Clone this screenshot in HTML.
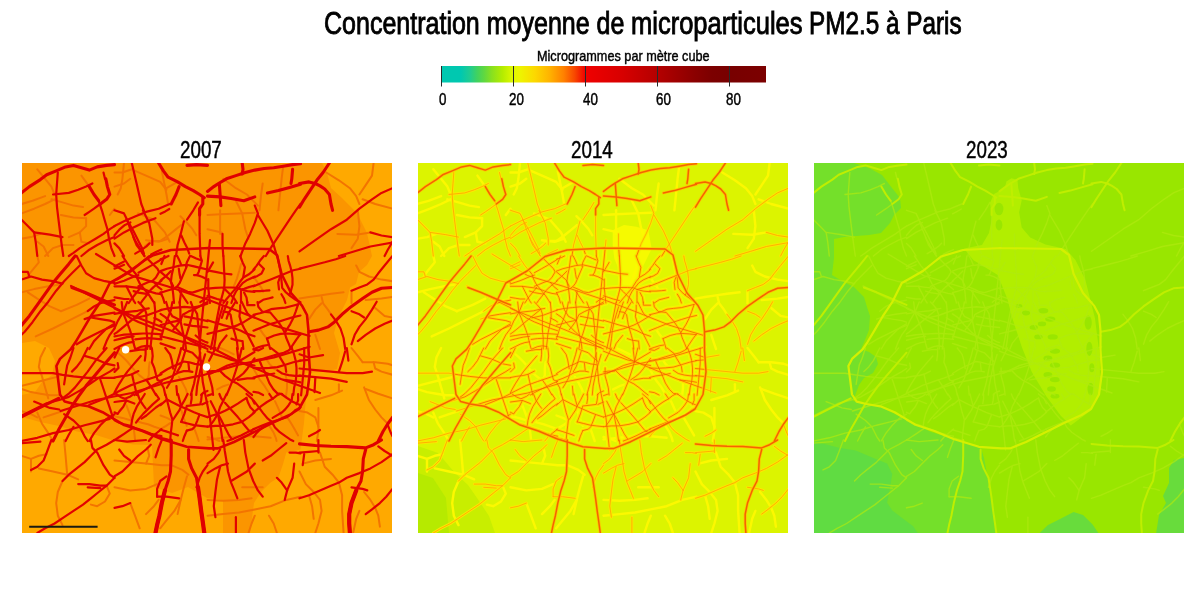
<!DOCTYPE html>
<html><head><meta charset="utf-8">
<style>
html,body{margin:0;padding:0;background:#fff;width:1200px;height:590px;overflow:hidden;position:relative}
.t{position:absolute;font-family:"Liberation Sans",sans-serif;color:#000;white-space:nowrap;transform-origin:0 0;line-height:1;-webkit-text-stroke:0.45px #000}
.ti{top:8.6px;font-size:30.9px;transform:scaleX(0.81);-webkit-text-stroke:0.9px #000}
#ti2{transform:scaleX(0.826)}
#ti3{transform:scaleX(0.787)}
#sub{left:536.8px;top:48px;font-size:15px;transform:scaleX(0.845)}
.tk{font-size:16.5px;top:91px;transform:scaleX(0.81)}
.yr{font-size:23.2px;top:138.6px;transform:scaleX(0.81)}
#cbar{position:absolute;left:441px;top:66px;width:325px;height:16.5px}
.panel{position:absolute;top:163px;width:370.5px;height:370px;overflow:hidden}
</style></head><body>
<div class="t ti" style="left:324px">Concentration moyenne de</div><div class="t ti" id="ti2" style="left:630.8px">microparticules</div><div class="t ti" id="ti3" style="left:809.3px">PM2.5 à Paris</div>
<div class="t" id="sub">Microgrammes par mètre cube</div>
<svg id="cbar" viewBox="0 0 325 16.5" preserveAspectRatio="none">
<defs><linearGradient id="cg" x1="0" x2="1" y1="0" y2="0">
<stop offset="0" stop-color="#00c8b0"/>
<stop offset="0.061" stop-color="#00c8b0"/>
<stop offset="0.089" stop-color="#20cc90"/>
<stop offset="0.111" stop-color="#40d260"/>
<stop offset="0.133" stop-color="#60d840"/>
<stop offset="0.156" stop-color="#88e020"/>
<stop offset="0.189" stop-color="#b4ec00"/>
<stop offset="0.222" stop-color="#e0f800"/>
<stop offset="0.244" stop-color="#eef400"/>
<stop offset="0.289" stop-color="#fcd800"/>
<stop offset="0.333" stop-color="#ffb400"/>
<stop offset="0.378" stop-color="#ff8000"/>
<stop offset="0.411" stop-color="#f84800"/>
<stop offset="0.444" stop-color="#f00000"/>
<stop offset="0.556" stop-color="#d80000"/>
<stop offset="0.667" stop-color="#b40000"/>
<stop offset="0.778" stop-color="#8c0000"/>
<stop offset="0.833" stop-color="#7c0000"/>
<stop offset="0.889" stop-color="#780000"/>
<stop offset="1" stop-color="#7c0000"/>
</linearGradient></defs>
<rect x="0" y="0" width="325" height="16.5" fill="url(#cg)"/>
</svg>
<svg style="position:absolute;left:0;top:0" width="1200" height="590">
<g stroke="#2a2a2a" stroke-width="1">
<line x1="441.5" y1="66" x2="441.5" y2="86.5"/>
<line x1="513.5" y1="66" x2="513.5" y2="86.5"/>
<line x1="585.5" y1="66" x2="585.5" y2="86.5"/>
<line x1="657.5" y1="66" x2="657.5" y2="86.5"/>
<line x1="729.5" y1="66" x2="729.5" y2="86.5"/>
</g>
</svg>
<div class="t tk" style="left:439.3px">0</div>
<div class="t tk" style="left:509px">20</div>
<div class="t tk" style="left:582.8px">40</div>
<div class="t tk" style="left:655.8px">60</div>
<div class="t tk" style="left:725.7px">80</div>
<div class="t yr" style="left:180.4px">2007</div>
<div class="t yr" style="left:570.7px">2014</div>
<div class="t yr" style="left:965.9px">2023</div>

<svg width="0" height="0" style="position:absolute"><defs><g id="nM"><polyline points="-0.5,29.9 7.4,23.6 18.4,16.6 24.7,11.8 34.2,7.9 43.6,3.9 51.5,2.4 59.4,4.7 67.3,7.1 75.2,3.9 84.6,2.4 92.5,1.6"/><polyline points="67.3,23.6 72,31.5 76.7,37.8"/><polyline points="83.8,15.8 85.4,23.6 87.8,31.5 84.6,36.3 78.3,41"/><polyline points="136.6,0 141.4,7.9 146.1,14.2 155.6,18.9 163.4,23.6 171.3,27.6 177.6,31.5 182.3,34.7"/><polyline points="157.1,23.6 154,31.5 150.8,37.8 149.2,41"/><polyline points="180.8,34.7 180.8,41 177.6,45.7 177.6,52"/><polyline points="165,2.4 174.5,1.6 185.5,2.4"/><polyline points="185.5,28.4 191.8,23.6 196.5,20.5 204.4,15.8 213.9,12.6 223.3,9.5 232.8,7.1 242.2,5.5 251.7,4.7 261.2,3.2 270.6,1.6 278.5,0.8"/><polyline points="220.2,0 221,6.3 220.2,11"/><polyline points="197.3,20.5 198.1,31.5 198.9,42.6"/><polyline points="185.5,33.1 198.1,33.9 209.1,35.5 221.8,37.8 232.8,33.9"/><polyline points="245.4,29.9 256.4,27.6 267.5,24.4 278.5,21.3"/><polyline points="270.6,6.3 269.8,15.8 269,20.5"/><polyline points="307.4,0 301.1,9.5 294.8,17.3 288.5,26.8 282.2,36.3 277.5,44.1"/><polyline points="277.5,20.5 287,18.9 293.3,20.5 298,22.9 302.7,26 307.4,31.5 309,41 310.6,47.3"/><polyline points="53.1,93 46.8,100.9 38.9,110.3 31,119.8 23.1,130.8 15.3,141.9 7.4,152.9 -0.5,162.4"/><polyline points="49.9,124.5 62.6,129.3 73.6,134 84.6,138.7 92.5,141.9"/><polyline points="287,168.7 296.4,167.1 305.9,163.9 312.2,159.2 320.1,151.3 329.5,143.4 340.6,135.6 350,129.3 359.5,125.3 370.5,124.5"/><polyline points="92.5,189.7 81.5,202.3 72,213.4 64.1,222.8 56.2,233.9 49.9,243.3 43.6,254.4 37.3,265.4 31,278"/><polyline points="370.5,254.4 365.8,260.7 361,268.5 356.3,278"/><polyline points="149.2,277 149.2,292.8 148.5,308.5 146.1,318 142.9,327.4 139.8,340.1 137.4,352.7 135.1,362.1 133.5,370"/><polyline points="166.6,286.5 166.6,295.9 169.7,305.4 174.5,314.8 176,324.3 177.6,335.3 179.2,347.9 180.8,359 182.3,370"/><polyline points="277.5,280.9 293.3,282.5 309,283.3 324.8,283.6 343.7,284.9 351.6,281.7 359.5,277"/><polyline points="343.7,286.5 341.3,295.9 340.6,308.5 339,318 334.2,327.4 329.5,340.1 327.2,351.1 327.2,360.5 327.9,370"/><polyline points="0,253.6 15.7,245.7 36.6,235.3"/></g><g id="nR"><polyline points="35.8,9.5 35,20.5 34.2,31.5 35,44.1 36.5,56.7 38.1,69.4 39.7,82 41.3,93"/><polyline points="31,31.5 46.8,29.9 56.2,26.8 64.1,23.6 70.4,20.5"/><polyline points="76.7,37.8 79.9,47.3 83,58.3 85.4,66.2 87,75.7 89.3,85.1 92.5,93"/><polyline points="-0.5,56.7 5.8,63.1 12.1,69.4 13.7,78.8 15.3,93"/><polyline points="12.1,69.4 27.9,71.7 40.5,74.1"/><polyline points="92.5,63.1 87.8,66.2 81.5,70.9 73.6,75.7 65.7,80.4 57.8,85.1 51.5,89.8 46.8,93"/><polyline points="92.5,74.1 84.6,77.2 75.2,82 67.3,86.7 59.4,93"/><polyline points="62.6,52 67.3,48.9 72,45.7 78.3,41"/><polyline points="81.5,9.5 83,15.8"/><polyline points="109.8,0 114.6,20.5 119.3,41 122.4,48.9"/><polyline points="120.9,47.3 127.2,59.9 130.3,75.7 130.3,82"/><polyline points="92.5,47.3 102,50.4 105.1,56.7 108.3,66.2 113,77.2 117.7,85.1 122.4,93"/><polyline points="92.5,63.1 102,58.3 113,53.6 124,48.9 136.6,45.7 147.7,41"/><polyline points="92.5,75.7 102,69.4 111.4,64.6 120.9,59.9 133.5,55.2"/><polyline points="92.5,80.4 97.2,85.1 102,93"/><polyline points="111.4,74.1 114.6,82 119.3,88.3 122.4,93"/><polyline points="165,56.7 171.3,47.3 176,39.4"/><polyline points="161.9,58.3 158.7,70.9 155.6,82 154,93"/><polyline points="177.6,52 177.6,70.9 178.4,93"/><polyline points="232.8,42.6 235.9,50.4 232.8,59.9 228.1,70.9 223.3,80.4 218.6,93"/><polyline points="278.5,41 273.8,47.3 267.5,56.7 261.2,66.2 254.9,75.7 248.6,85.1 243.8,93"/><polyline points="235.9,52 245.4,67.8 251.7,82 254.9,93"/><polyline points="200.5,70.9 200.5,82 201.3,93"/><polyline points="277.5,88.3 293.3,77.2 309,66.2 324.8,56.7 337.4,45.7 350,36.3 359.5,29.9 370.5,25.2"/><polyline points="348.4,69.4 359.5,72.5 370.5,74.1"/><polyline points="370.5,78.8 365.8,86.7 362.6,93"/><polyline points="316.9,93 332.7,88.3 348.4,83.5 370.5,79.6"/><polyline points="57.8,102.5 49.9,110.3 42.1,118.2 34.2,127.7 26.3,138.7 18.4,148.2 10.5,159.2 2.7,168.7 -0.5,171.8"/><polyline points="-0.5,116.6 9,113.5 20,116.6 31,118.2 40.5,120.6"/><polyline points="-0.5,108.8 5.8,108.8 7.4,113.5"/><polyline points="54.7,93 59.4,102.5 64.1,110.3 72,115.1 83,118.2 92.5,119.8"/><polyline points="92.5,137.1 84.6,138.7 78.3,140.3 72,143.4 65.7,148.2"/><polyline points="92.5,149.7 81.5,151.3 72,152.9 62.6,156.1"/><polyline points="68.9,154.5 78.3,156.1 87.8,157.6 92.5,159.2"/><polyline points="92.5,162.4 81.5,167.1 72,171.8 62.6,176.5 54.7,181.3"/><polyline points="67.3,186 72,178.1 78.3,171.8 84.6,165.5 92.5,160.8"/><polyline points="81.5,186 84.6,178.1 87.8,171.8 92.5,165.5"/><polyline points="277.5,105.6 290.1,102.5 302.7,99.3 313.8,96.2 323.2,93"/><polyline points="370.5,93 362.6,102.5 356.3,110.3 351.6,116.6 345.3,121.4 337.4,124.5 329.5,127.7"/><polyline points="354.7,138.7 350,146.6 343.7,156.1 337.4,163.9 332.7,171.8 329.5,181.3"/><polyline points="370.5,157.6 362.6,160.8 353.2,165.5 343.7,171.8 335.8,178.1"/><polyline points="309,151.3 313.8,157.6 318.5,165.5 321.6,175 323.2,186"/><polyline points="329.5,148.2 337.4,151.3 342.1,154.5"/><polyline points="84.6,185 73.6,197.6 65.7,208.6 59.4,216.5 53.1,224.4 46.8,230.7 40.5,235.4"/><polyline points="-0.5,252.8 12.1,246.5 24.7,240.2 37.3,237 46.8,233.9 57.8,227.6 67.3,221.3 76.7,214.9 87.8,208.6 92.5,205.5"/><polyline points="51.5,185 48.4,194.5 45.2,202.3 43.6,211.8 42.1,221.3"/><polyline points="-0.5,210.2 9,210.2 20,210.2 31,210.2 40.5,211.8 51.5,213.4 65.7,214.9 78.3,214.9 92.5,214.9"/><polyline points="62.6,192.9 73.6,196 84.6,200.8 92.5,202.3"/><polyline points="65.7,185 62.6,191.3 59.4,197.6 54.7,203.9 49.9,208.6"/><polyline points="92.5,230.7 83,235.4 75.2,238.6 67.3,241.7"/><polyline points="12.1,238.6 20,241.7 27.9,244.9 37.3,246.5"/><polyline points="-0.5,278 15.3,274.8 31,270.1 46.8,267 62.6,262.2 75.2,259.1 87.8,255.9"/><polyline points="42.1,251.2 51.5,257.5 57.8,263.8 62.6,273.3 65.7,278"/><polyline points="67.3,278 72,270.1 78.3,262.2 84.6,255.9 92.5,251.2"/><polyline points="78.3,216.5 81.5,226 84.6,235.4 87.8,244.9 90.9,254.4"/><polyline points="51.5,263.8 46.8,271.7 43.6,278"/><polyline points="277.5,191.3 287,194.5 301.1,192.1"/><polyline points="277.5,197.6 287,196.8"/><polyline points="277.5,212.6 293.3,214.2 309,215.7 324.8,218.9"/><polyline points="293.3,214.9 292.5,229.1"/><polyline points="282.2,185 282.2,200.8 280.7,216.5 279.1,232.3"/><polyline points="323.2,188.2 320.1,199.2 316.9,208.6"/><polyline points="324.8,185 326.4,197.6"/><polyline points="277.5,205.5 293.3,207.1 309,208.6 324.8,210.2 340.6,210.2 350,208.6"/><polyline points="365.8,262.2 368.9,270.1 370.5,273.3"/><polyline points="287,273.3 293.3,270.1 298,267"/><polyline points="-0.5,280.2 9,279.4 18.4,278.6"/><polyline points="29.4,277 24.7,289.6 21.6,297.5 15.3,303.8 9,306.9"/><polyline points="68.9,277 70.4,284.9 75.2,289.6 81.5,302.2 87.8,311.7 92.5,314.8"/><polyline points="92.5,277 84.6,281.7 75.2,286.5 68.9,292.8 62.6,299.1 54.7,305.4 46.8,311.7 40.5,318"/><polyline points="92.5,314.8 84.6,322.7 76.7,329 68.9,335.3 61,341.6 51.5,347.9 42.1,354.2 32.6,360.5 23.1,365.3 15.3,370"/><polyline points="56.2,321.1 67.3,321.1 78.3,322.7 84.6,322.7"/><polyline points="65.7,324.3 78.3,325.1"/><polyline points="185.5,302.2 180.8,308.5 177.6,314.8 174.5,324.3"/><polyline points="92.5,277 105.1,278.6 124,277"/><polyline points="139.8,277 136.6,284.9 133.5,294.3"/><polyline points="92.5,313.3 100.4,308.5 108.3,300.6 116.1,292.8 124,286.5 128.8,281.7"/><polyline points="97.2,286.5 102,292.8 108.3,297.5"/><polyline points="135.1,333.7 144.5,333.7 157.1,335.3"/><polyline points="144.5,313.3 138.2,318 135.1,325.9 135.1,333.7"/><polyline points="92.5,344.8 100.4,343.2 108.3,340.1"/><polyline points="201.3,277 202.8,288 204.4,297.5 206,308.5 209.1,319.6 212.3,327.4 215.4,335.3"/><polyline points="185.5,310.1 193.4,305.4 199.7,302.2 206,300.6"/><polyline points="198.1,303.8 195,316.4 193.4,329 191.8,343.2 193.4,354.2"/><polyline points="185.5,300.6 191.8,295.9 196.5,289.6 198.1,286.5"/><polyline points="209.1,318 217,313.3 224.9,308.5 232.8,300.6"/><polyline points="221.8,277 223.3,289.6 226.5,305.4 231.2,318 235.9,327.4 240.7,333.7"/><polyline points="240.7,297.5 248.6,292.8 256.4,286.5 264.3,280.2"/><polyline points="267.5,289.6 273.8,289.6 278.5,290.4"/><polyline points="265.1,327.4 270.6,314.8 272.2,300.6"/><polyline points="265.1,327.4 259.6,319.6 254.9,314.8"/><polyline points="265.1,327.4 262.7,336.9"/><polyline points="213.9,354.2 213.9,370"/><polyline points="277.5,289.6 287,288.8 296.4,288"/><polyline points="282.2,291.2 280.7,302.2"/><polyline points="296.4,277 296.4,289.6"/><polyline points="370.5,291.2 359.5,299.1 348.4,305.4 337.4,310.1 324.8,314.8 316.9,319.6 309,322.7 298,327.4 287,332.2 277.5,335.3"/><polyline points="356.3,283.3 362.6,288 370.5,292.8"/><polyline points="370.5,325.9 364.2,333.7 357.9,340.1 350,346.4 343.7,351.1"/><polyline points="329.5,324.3 340.6,325.9 345.3,327.4"/><polyline points="100.5,93 103.7,97.8 106.8,102.6 110.8,107.3 114,111.3 115.6,116.1 118,120.9 121.2,124.9 124.4,128.8 127.6,132.8 130.7,137.6 132.3,140"/><polyline points="92.5,103.4 97.3,101 102.1,98.6"/><polyline points="92.5,105.7 98.1,103.4 102.1,101.8"/><polyline points="95.7,116.1 100.5,112.9 105.2,109.7 110.8,105.7 116.4,101.8 122,97.8 126,95.4 129.9,93"/><polyline points="92.5,120.9 97.3,119.3 102.1,117.7 106,116.1 111.6,113.7 116.4,112.1"/><polyline points="116.4,109.7 123.6,105.7 129.1,102.6 137.1,97.8 139.5,96.2"/><polyline points="126,96.2 130.7,101 135.5,105.7 137.1,108.9 133.9,114.5 130.7,117.7 126,119.3 120.4,121.7 116.4,123.3"/><polyline points="92.5,123.3 98.9,123.3 104.4,123.3 110,124.1 116.4,124.9 122.8,126.5 128.3,128.8 133.9,130.4 139.5,131.2"/><polyline points="139.5,117.7 135.5,120.9 131.5,124.1 128.3,127.3 126,130.4 123.6,133.6 120.4,137.6 118.8,140"/><polyline points="104.4,123.3 106.8,128.1 109.2,132.8 111.6,137.6 113.2,140"/><polyline points="92.5,134.4 97.3,135.2 102.1,136 106.8,136"/><polyline points="106.8,140 110,135.2 113.2,131.2 116.4,127.3 118.8,124.1"/><polyline points="111.6,128.1 116.4,129.6 121.2,130.4 126,131.2"/><polyline points="132.3,119.3 135.5,123.3 139.5,126.5"/><polyline points="138.5,108.1 144.9,105.7 151.2,104.2 157.6,102.6 164.8,101.8 172,103.4 178.3,104.9 185.5,106.5"/><polyline points="138.5,96.2 143.3,94.6 146.5,93"/><polyline points="142.5,93 139.3,101"/><polyline points="152.8,93 152,99.4 151.2,105.7 149.7,112.1 148.9,118.5 150.4,124.9 151.2,131.2 152,140"/><polyline points="155.2,93 157.6,97.8 159.2,101.8"/><polyline points="138.5,108.9 143.3,112.9 148.1,116.9 151.2,123.3"/><polyline points="138.5,117.7 143.3,113.7 148.9,108.1"/><polyline points="164.8,103.4 162.4,108.9 160,114.5 157.6,120.1 155.2,123.3 152,125.7 146.5,127.3 141.7,128.8 138.5,129.6"/><polyline points="168,93 166.4,96.2 164.8,99.4 164,103.4"/><polyline points="178.3,93 179.9,97.8 178.3,103.4 176.7,108.9 175.1,112.1 172,112.1"/><polyline points="175.1,112.1 179.9,113.7 183.1,115.3 185.5,116.9"/><polyline points="155.2,124.1 160.8,126.5 165.6,128.8 170.4,129.6 175.1,128.1 179.9,126.5 185.5,124.9"/><polyline points="157.6,128.1 160.8,132.8 164,137.6 165.6,140"/><polyline points="159.2,128.1 158.4,134.4 157.6,140"/><polyline points="185.5,134.4 181.5,136.8 178.3,139.2"/><polyline points="138.5,129.6 140.9,134.4 142.5,140"/><polyline points="156.8,105.7 157.6,111.3 158.4,115.3"/><polyline points="168.8,93 174.3,95.4 178.3,97"/><polyline points="100.9,149.4 92.5,145.4"/><polyline points="100.9,149.4 92.5,150.9"/><polyline points="100.9,149.4 95.7,158.1 92.5,165.3"/><polyline points="100.9,149.4 99.7,139"/><polyline points="100.9,149.4 105.2,139"/><polyline points="100.9,149.4 115.6,147.8 122,146.2 126.8,145.4"/><polyline points="100.9,149.4 108.4,154.9 116.4,158.9 124.4,162.1 132.3,165.3 139.5,167.7"/><polyline points="100.9,149.4 104.4,158.1 107.6,166.1 110,173.3 111.6,180.4 113.2,186"/><polyline points="116.4,139 119.6,142.2 122.8,146.2 124.4,150.9 124.4,158.9 124.4,166.9 125.2,174.8 125.2,186"/><polyline points="132.3,139 133.1,147 133.1,154.9 131.5,162.9 129.9,170.9 129.1,178.8 128.3,186"/><polyline points="139.5,147 124.4,152.5 114,154.9"/><polyline points="122.8,146.2 118,150.2 113.2,154.1 108.4,158.1 103.7,162.1 98.9,166.1 94.9,169.3 92.5,170.9"/><polyline points="92.5,173.3 97.3,172.5 102.1,171.7 108.4,171.3 114.8,170.9 121.2,170.5 127.6,170.5 133.9,170.9 139.5,171.3"/><polyline points="92.5,177.2 98.9,175.6 105.2,174.1 111.6,173.3"/><polyline points="113.2,176.4 119.6,175.6 126,175.2 132.3,175.6 139.5,176.4"/><polyline points="92.5,186 97.3,183.6 102.1,181.2 106.8,179.6 111.6,178.8"/><polyline points="114,186 119.6,183.6 124.4,182.8 129.1,183.6"/><polyline points="132.3,154.9 137.1,157.3 139.5,158.9"/><polyline points="138.5,147 146.5,145.4 154.4,144.6 162.4,143.8 170.4,144.6 178.3,143 185.5,140.6"/><polyline points="144.1,139 146.5,147 150.4,153.3 158.4,157.3"/><polyline points="150.4,139 148.9,147 146.5,153.3 144.1,159.7 141.7,165.3 140.1,170.9 138.5,175.6"/><polyline points="157.6,139 158.4,147 158.4,157.3 160,165.3 161.6,172.5 163.2,178.8 164,186"/><polyline points="168.8,139 171.2,145.4 172.8,147 175.1,150.9 175.9,158.9 176.7,166.9 177.5,174.8 178.3,186"/><polyline points="185.5,139 178.3,143 172,146.2 166.4,148.6 160.8,151.7 158.4,157.3"/><polyline points="158.4,157.3 150.4,158.9 144.9,160.5 138.5,162.1"/><polyline points="158.4,157.3 154.4,162.9 151.2,166.9"/><polyline points="138.5,150.9 143.3,154.1 146.5,157.3 150.4,162.1 153.6,165.3 157.6,169.3 162.4,173.3 168,177.2 174.3,180.4 179.9,183.6 185.5,186"/><polyline points="138.5,173.3 144.9,174.8 151.2,176.4 157.6,178 164,179.6 170.4,181.2 176.7,182.8 183.1,184.4"/><polyline points="138.5,180.4 143.3,182 148.1,183.6 152.8,185.2"/><polyline points="171.2,146.2 169.6,154.9 167.2,162.9 164.8,170.9 162.4,177.2 160.8,186"/><polyline points="162.4,153.3 170.4,154.9 178.3,156.5 185.5,158.1"/><polyline points="162.4,161.3 170.4,162.9 178.3,163.7 185.5,164.5"/><polyline points="173.6,172.5 178.3,176.4 183.1,178.8 185.5,179.6"/><polyline points="201.4,93 201.8,101 202.2,108.9 202.6,116.9 202.2,124.9 200.6,131.2 198.2,140"/><polyline points="191.1,99.4 187.9,104.9 185.5,108.9"/><polyline points="185.5,107.3 193.5,108.9 201.4,110.5 209.4,111.3"/><polyline points="218.2,93 220.6,99.4 222.9,104.2 221.3,113.7"/><polyline points="232.5,106.5 226.9,111.3 221.3,114.5 218.2,118.5 214.2,124.9 209.4,130.4 204.6,136 201.4,140"/><polyline points="185.5,125.7 193.5,124.9 201.4,124.5 209.4,124.5 215.8,124.9 219,126.5 225.3,128.1 232.5,128.8"/><polyline points="232.5,113.7 225.3,116.9 220.6,120.1 217.4,124.1 214.2,128.1 211.8,132.8 209.4,140"/><polyline points="232.5,122.5 226.9,124.1 222.1,125.7 219,126.5"/><polyline points="201.4,124.9 205.4,128.8 209.4,132.8 212.6,136 215,140"/><polyline points="186.3,116.1 186.3,124.9 187.1,132.8 187.9,140"/><polyline points="185.5,132.8 190.3,134.4 195.1,136 201.4,137.6"/><polyline points="219,128.1 219,134.4 219,140"/><polyline points="222.1,129.6 224.5,134.4 225.3,140"/><polyline points="255.4,93 257,101 258.6,108.9 259.4,116.9 260.2,124.9 263.4,128.8 268.1,132.8 273.7,136.8 278.5,139.2"/><polyline points="241.9,93 237.9,97.8 234.7,102.6 231.5,106.5"/><polyline points="237.1,101 241.9,105.7 239.5,110.5 235.5,112.9 231.5,114.5"/><polyline points="231.5,123.3 239.5,120.1 247.4,116.9 255.4,113.7 263.4,110.5 271.3,107.3 278.5,105.7"/><polyline points="257.8,114.5 256.2,119.3 257,126.5"/><polyline points="231.5,128.1 237.9,128.1 243.4,127.7 247.4,127.3"/><polyline points="236.3,140 241.1,136.8 247.4,135.2 250.6,134.4"/><polyline points="259.4,131.2 261.8,135.2 263.4,140"/><polyline points="265.8,93 266.6,97.8 268.1,102.6 269.7,108.9 270.5,115.3 270.5,121.7 268.9,128.1 267.3,132"/><polyline points="198.2,139 196.7,147 195.1,154.9 193.5,162.9 191.9,170.9 190.3,178.8 188.7,186"/><polyline points="200.6,143.8 198.2,151.7 195.9,159.7 194.3,167.7 193.5,175.6 191.9,186"/><polyline points="205.4,139 203,145.4 201.4,150.2 199.8,154.9"/><polyline points="213.4,139 209.4,145.4 206.2,150.9 204.6,155.7"/><polyline points="185.5,157.3 193.5,159.7 201.4,162.1 207.8,163.7 212.6,165.3 219,167.7 225.3,170.9 232.5,173.3"/><polyline points="185.5,170.9 191.9,169.3 198.2,167.7 204.6,166.1 209.4,164.5 215.8,162.1 222.1,158.9 228.5,154.9 232.5,152.5"/><polyline points="201.4,148.6 206.2,149.4 208.6,151.7 209.4,156.5 210.2,161.3 211.8,166.9 213.4,172.5 215,178.8 215.8,186"/><polyline points="218.2,142.2 218.2,147 217.4,153.3 219,158.9 222.1,165.3 225.3,170.9 228.5,177.2 231.7,183.6"/><polyline points="219.8,139 222.9,145.4 225.3,150.2 228.5,153.3"/><polyline points="225.3,139 225.3,142.2 232.5,142.2"/><polyline points="204.6,172.5 201.4,176.4 198.2,180.4 195.9,186"/><polyline points="209.4,175.6 214.2,177.2 219.8,178"/><polyline points="220.6,178 221.3,186"/><polyline points="231.5,151.7 237.9,150.2 243.4,148.6 249,146.2 255.4,145.4 263.4,144.6 269.7,143 276.1,141.4"/><polyline points="235.5,139 236.3,143.8 240.3,148.6 248.2,149.4 252.2,154.1 256.2,158.9 259.4,163.7 262.6,169.3 264.2,174.8 266.6,180.4 268.9,186"/><polyline points="231.5,167.7 239.5,164.5 247.4,161.3 256.2,158.9 263.4,156.5 271.3,154.1 278.5,152.5"/><polyline points="276.1,141.4 273.7,148.6 271.3,154.9 268.1,161.3 265,166.1 262.6,170.1"/><polyline points="245,175.6 252.2,172.5 258.6,170.9 265,170.5 271.3,170.9 278.5,171.7"/><polyline points="245,175.6 246.6,180.4 248.2,186"/><polyline points="278.5,170.9 274.5,176.4 271.3,181.2 268.1,186"/><polyline points="231.5,186 236.3,184.4 241.1,182.8 245.8,182"/><polyline points="97.3,185 94.9,189.8 92.5,194.6"/><polyline points="118.8,193 114,198.5 109.2,204.1 105.2,208.9 101.3,214.5 97.3,220.8 94.1,226.4 92.5,229.6"/><polyline points="92.5,214.5 98.9,213.3 105.2,212.5 110,211.3 116.4,208.1"/><polyline points="110,211.3 111.6,218.5 113.2,224.8 114.8,232"/><polyline points="123.6,185 123.6,191.4 122.8,197.7"/><polyline points="108.4,188.2 113.2,187.4 118,186.6 123.6,186.6"/><polyline points="129.9,185 130.7,193 129.9,199.3 132.3,204.9 133.9,211.3 135.5,216.9 139.5,218.5"/><polyline points="139.5,211.3 133.9,213.7 129.1,215.3 124.4,216.9 119.6,218.5 113.2,220.8 108.4,222.4 103.7,224.8 97.3,228 92.5,230.4"/><polyline points="124.4,216.9 127.6,221.6 130.7,226.4 133.9,232"/><polyline points="139.5,218.5 135.5,220.1 130.7,222.4 126,224.8 121.2,227.2 116.4,229.6 112.4,232"/><polyline points="92.5,208.9 96.5,204.9 95.7,200.1"/><polyline points="143.3,185 148.1,191.4 149.7,196.9 150.4,200.9 151.2,205.7"/><polyline points="159.2,185 157.6,191.4 155.2,199.3 152.8,207.3 150.4,215.3 147.3,220.8 144.9,224.8"/><polyline points="163.2,188.2 160.8,196.2 158.4,203.3 155.2,208.9"/><polyline points="138.5,210.5 144.9,206.5 151.2,203.3 156.8,200.9 161.6,198.5 167.2,199.3 172.8,200.9 178.3,201.7"/><polyline points="138.5,217.7 144.9,215.3 150.4,212.9 156,209.7 161.6,208.1 166.4,208.1 170.4,208.9"/><polyline points="166.4,200.1 167.2,207.3"/><polyline points="161.6,186.6 170.4,189.8 175.1,194.6 179.9,198.5"/><polyline points="178.3,189.8 176.7,196.9 175.1,204.9 173.6,212.9 172,220.8 170.4,226.4 168.8,232"/><polyline points="183.1,191.4 180.7,199.3 178.3,207.3 176.7,215.3 175.1,223.2 174.3,232"/><polyline points="138.5,219.3 141.7,224.8 143.3,232"/><polyline points="154.4,223.2 155.2,232"/><polyline points="185.5,228 181.5,229.6 179.1,232"/><polyline points="94.1,231 98.9,234.2 102.9,235.8 108.4,233.4 111.6,231"/><polyline points="92.5,239 104.4,237.4 112.4,240.6"/><polyline points="104.4,237.4 101.3,243.7 97.3,248.5 95.7,250.9 92.5,249.3"/><polyline points="122.8,231 118.8,237.4 114.8,243.7 111.6,250.9 110,257.3 109.2,262.9"/><polyline points="92.5,257.3 97.3,259.7 102.1,261.3 108.4,262.9 111.6,264.5"/><polyline points="111.6,264.5 116.4,266.1 122.8,268.4 129.1,270.8 135.5,272.4 139.5,273.2"/><polyline points="111.6,264.5 106.8,267.6 102.1,270.8 97.3,274 92.5,277.2"/><polyline points="133.9,231 137.1,235.8 130.7,241.4 126,246.1 121.2,250.9 116.4,256.5 114,259.7"/><polyline points="139.5,240.6 133.9,244.5 129.1,248.5 124.4,252.5 119.6,255.7"/><polyline points="115.6,231 118,237.4 121.2,242.2 123.6,245.3"/><polyline points="139.5,266.1 134.7,270 130.7,273.2 126.8,278"/><polyline points="143.3,231 144.9,236.6 146.5,242.9 148.1,249.3 150.4,256.5 149.7,262.9 148.9,269.2 148.1,278"/><polyline points="138.5,242.2 144.9,236.6 152.8,240.6 159.2,243.7 164.8,246.1 172,249.3 178.3,251.7 185.5,254.1"/><polyline points="156,231 157.6,237.4 159.2,242.9 157.6,246.9 154.4,251.7 151.2,256.5"/><polyline points="165.6,231 162.4,237.4 159.2,242.9"/><polyline points="164.8,242.9 162.4,250.9 159.2,258.9"/><polyline points="169.6,231 169.6,235.8 168.8,240.6"/><polyline points="179.9,231 179.1,237.4 178.3,241.4 172,242.2 165.6,242.9"/><polyline points="185.5,239 179.9,241.4"/><polyline points="159.2,258.9 165.6,260.5 172,262.1 178.3,262.9 185.5,263.7"/><polyline points="177.5,251.7 175.1,258.1 172.8,263.7 170.4,266.1 164.8,267.6"/><polyline points="164.8,267.6 162.4,273.2 160.8,278"/><polyline points="138.5,266.8 144.1,268.4 148.9,270 156,272.4"/><polyline points="138.5,274.8 144.9,276.4 149.7,278"/><polyline points="185.5,188.2 193.5,191.4 201.4,193.8 209.4,196.9 216.6,198.5"/><polyline points="216.6,198.5 232.5,189"/><polyline points="216.6,198.5 215,185"/><polyline points="216.6,198.5 219.8,185"/><polyline points="216.6,198.5 223.7,200.9 232.5,202.5"/><polyline points="216.6,199.3 205.4,202.5 197.4,206.5 188.7,210.5"/><polyline points="216.6,198.5 213.4,208.9 210.2,218.5 207,226.4 204.6,232"/><polyline points="197.4,207.3 203,212.9 209.4,217.7 215.8,220.8 221.3,224.8 226.9,229.6 230.1,232"/><polyline points="193.5,185 190.3,191.4 187.1,197.7"/><polyline points="187.1,204.9 187.1,212.9 188.7,218.5 190.3,224.8 191.1,232"/><polyline points="232.5,195.4 228.5,200.9 225.3,205.7 221.3,210.5 217.4,213.7 212.6,216.9"/><polyline points="215.8,216.9 225.3,215.3 232.5,215.3"/><polyline points="185.5,208.9 190.3,208.1 196.7,208.1"/><polyline points="231.5,197.7 239.5,196.2 247.4,193.8 255.4,191.4 261.8,189.8 266.6,187.4 269.7,185"/><polyline points="249,185 253,188.2 256.2,190.6 258.6,195.4 261,199.3 263.4,203.3 264.2,208.9"/><polyline points="237.9,198.5 239.5,202.5 241.9,207.3 244.2,212.1"/><polyline points="231.5,204.9 239.5,205.3 247.4,204.9 255.4,204.1 263.4,201.7 271.3,199.3 278.5,197.7"/><polyline points="231.5,214.5 237.9,212.9 244.2,212.1 252.2,210.5"/><polyline points="255.4,207.3 260.2,210.5 266.6,212.1 272.9,212.9 278.5,212.9"/><polyline points="269.7,185 272.1,191.4 273.7,197.7 274.5,204.9 274.5,210.5 273.7,218.5 272.1,224.8 271.3,232"/><polyline points="261.8,216.9 268.1,217.7 274.5,218.5 278.5,219.3"/><polyline points="231.5,186.6 236.3,187.4 241.1,185"/><polyline points="231.5,228.8 236.3,229.6 241.1,232"/><polyline points="244.2,212.1 247.4,220.1 251.4,226.4 255.4,230.4 260.2,231.2"/><polyline points="204.6,231 201.4,237.4 198.2,243.7 195.9,250.9"/><polyline points="197.4,231 199,235 201.4,238.2"/><polyline points="185.5,254.1 190.3,252.5 195.9,250.9 203,247.7 209.4,244.5 215.8,240.6 220.6,237.4 224.5,235"/><polyline points="224.5,235 226.1,239.8 228.5,244.5 232.5,248.5"/><polyline points="188.7,238.2 191.9,244.5 195.1,250.9"/><polyline points="195.9,250.9 191.9,257.3 187.9,262.9"/><polyline points="195.9,250.9 197.4,258.9 199,266.8 200.6,278"/><polyline points="195.9,250.9 199,256.5 202.2,262.9"/><polyline points="185.5,263.7 193.5,262.9 201.4,262.9 211,261.3 219.8,258.9 226.9,254.1 232.5,249.3"/><polyline points="219.8,258.9 223.7,263.7 226.9,267.6 230.1,269.2"/><polyline points="203,239.8 209.4,246.9 215.8,254.1 219.8,258.9"/><polyline points="224.5,231 230.1,235.8 232.5,240.6"/><polyline points="185.5,232.6 190.3,231"/><polyline points="205.4,278 211.8,275.6 219,272.4 225.3,269.2 232.5,266.1"/><polyline points="203,264.5 206.2,270.8 209.4,275.6"/><polyline points="231.5,237.4 236.3,243.7 241.1,250.1 245.8,255.7 249.8,258.9"/><polyline points="249.8,258.9 257.8,256.5 265,254.1 269.7,250.9 273.7,246.9 278.5,244.5"/><polyline points="249.8,258.9 253,264.5 257.8,269.2 263.4,273.2 268.1,276.4 271.3,278"/><polyline points="249.8,258.9 243.4,262.9 237.9,266.8 233.9,270.8 231.5,274"/><polyline points="249.8,258.9 239.5,262.9 231.5,266.1"/><polyline points="247.4,231 250.6,235.8 254.6,232.6 257.8,231"/><polyline points="250.6,235.8 245,239 239.5,242.9 234.7,246.9 231.5,249.3"/><polyline points="259.4,231 265,235 269.7,238.2 274.5,240.6 278.5,242.2"/><polyline points="270.5,231 269.7,237.4 266.6,242.2 263.4,246.1 260.2,249.3 250.6,254.9"/><polyline points="276.1,231 276.1,237.4 274.5,241.4"/><polyline points="104.4,56.4 108.4,62.7 112.4,69.9 116.4,77.9 119.6,84.2 122,90.6"/><polyline points="113.2,90.6 118.8,87.4 124.4,83.4 127.6,80.3"/><polyline points="92.5,72.3 97.3,66.7 102.9,61.9 108.4,59.5"/><polyline points="139.5,86.6 133.9,89 129.1,91.4"/><polyline points="159.2,72.3 162.4,79.5 165.6,85.8 167.2,90.6"/><polyline points="138.5,50.8 143.3,48.4 147.3,46"/><polyline points="49,123 101,149 145,166 188,184 216.6,198.5 259,216 298,230"/><polyline points="74,91 109.7,112.6 145.3,123.3 188,137.5 216.4,148.2 252,162.4 287.6,173"/><polyline points="188,77 184.4,112.6 180.8,148.2 177.3,183.8 180.8,219.3 188,255 191.5,287"/><polyline points="38.5,248 74,237 109.7,230 145.3,219.3 180.8,212.2 216.4,201.6 252,194.4 287.6,183.8"/></g><g id="nO"><polyline points="15.3,6.3 23.1,15.8 29.4,23.6 32.6,31.5"/><polyline points="-0.5,50.4 12.1,45.7 23.1,41 32.6,36.3"/><polyline points="29.4,36.3 40.5,39.4 51.5,42.6 61,44.1"/><polyline points="38.9,52 51.5,54.4 64.1,55.2"/><polyline points="64.1,55.2 64.1,63.1 57.8,69.4 46.8,74.1"/><polyline points="57.8,69.4 59.4,78.8 67.3,80.4"/><polyline points="-0.5,75.7 9,74.1 18.4,70.9"/><polyline points="15.3,78.8 21.6,83.5 26.3,93"/><polyline points="23.1,93 31,85.1 40.5,82 51.5,82"/><polyline points="92.5,45.7 87.8,52"/><polyline points="59.4,12.6 67.3,23.6"/><polyline points="-0.5,41 10.5,37.8 23.1,33.1"/><polyline points="92.5,9.5 100.4,9.5 109.8,6.3"/><polyline points="92.5,23.6 102,20.5 108.3,15.8"/><polyline points="95.7,31.5 98.8,25.2 100.4,15.8 102,0"/><polyline points="113,7.9 124,12.6 138.2,18.9 144.5,26.8"/><polyline points="139.8,7.9 144.5,31.5 146.1,41"/><polyline points="116.1,50.4 131.9,56.7 142.9,69.4 147.7,78.8"/><polyline points="144.5,25.2 155.6,18.9"/><polyline points="124,77.2 136.6,78.8 146.1,75.7"/><polyline points="185.5,52 198.1,51.2 217,50.4 232.8,49.7"/><polyline points="213.9,37.8 220.2,50.4 223.3,66.2 226.5,75.7"/><polyline points="240.7,20.5 239.1,31.5 237.5,47.3"/><polyline points="201.3,15.8 213.9,25.2 224.9,31.5 235.9,42.6"/><polyline points="261.2,3.2 259.6,15.8 258,31.5 256.4,47.3"/><polyline points="198.1,47.3 198.1,70.9"/><polyline points="185.5,66.2 199.7,69.4"/><polyline points="304.3,9.5 316.9,17.3 327.9,25.2 334.2,33.1 337.4,41"/><polyline points="351.6,0 350,12.6 343.7,22.1 337.4,31.5"/><polyline points="335.8,47.3 337.4,63.1 335.8,75.7 329.5,85.1"/><polyline points="315.3,70.9 334.2,71.7 348.4,69.4"/><polyline points="340.6,36.3 353.2,41 370.5,45.7"/><polyline points="5.8,129.3 15.3,135.6 27.9,143.4 38.9,148.2"/><polyline points="13.7,173.4 31,165.5 46.8,157.6 62.6,149.7 73.6,143.4"/><polyline points="-0.5,129.3 12.1,126.1 27.9,122.9 38.9,121.4"/><polyline points="38.9,148.2 54.7,141.9 67.3,135.6"/><polyline points="15.3,93 16.8,99.3 9,108.8 5.8,113.5"/><polyline points="334.2,102.5 337.4,108.8 346.9,113.5 359.5,116.6 370.5,118.2"/><polyline points="329.5,127.7 329.5,140.3"/><polyline points="277.5,135.6 287,134 298,132.4 309,130.8 321.6,129.3"/><polyline points="299.6,134 301.1,140.3 305.9,146.6 309,151.3"/><polyline points="287,156.1 293.3,146.6 299.6,140.3"/><polyline points="343.7,137.1 359.5,135.6 370.5,134"/><polyline points="353.2,145 362.6,152.9 370.5,154.5"/><polyline points="293.3,171.8 296.4,181.3 298,186"/><polyline points="-0.5,226 9,229.1 18.4,230.7 27.9,232.3 37.3,232.3"/><polyline points="23.1,185 18.4,194.5 16.8,203.9 20,213.4 23.1,224.4 26.3,235.4"/><polyline points="-0.5,222.8 12.1,219.7 24.7,216.5 37.3,213.4"/><polyline points="15.3,249.6 20,260.7 26.3,270.1 31,278"/><polyline points="-0.5,248.1 9,251.2 15.3,254.4"/><polyline points="21.6,254.4 31,251.2 40.5,248.1"/><polyline points="185.5,276.4 201.3,274.8 217,273.3 232.8,273.3 248.6,274.8"/><polyline points="329.5,185 335.8,192.9 340.6,199.2"/><polyline points="340.6,199.2 353.2,199.2 365.8,200.8 370.5,202.3"/><polyline points="351.6,199.2 353.2,205.5 359.5,208.6 370.5,211.8"/><polyline points="342.1,224.4 346.9,237 353.2,246.5 359.5,254.4 365.8,260.7"/><polyline points="343.7,226 356.3,230.7 370.5,235.4"/><polyline points="293.3,237 309,232.3 320.1,227.6"/><polyline points="296.4,244.9 296.4,255.9 296.4,268.5 294.8,278"/><polyline points="277.5,248.1 285.4,249.6 293.3,254.4 296.4,263.8"/><polyline points="316.9,221.3 316.9,229.1"/><polyline points="42.1,277 43.6,292.8 45.2,311.7"/><polyline points="16.8,305.4 31,308.5 45.2,311.7 56.2,316.4"/><polyline points="40.5,318 35.8,329 34.2,340.1 35.8,352.7 40.5,362.1"/><polyline points="-0.5,292.8 9,295.9 16.8,292.8 24.7,291.2"/><polyline points="84.6,322.7 87.8,330.6 83,338.5 75.2,343.2 68.9,341.6"/><polyline points="9,295.9 9,308.5"/><polyline points="92.5,297.5 108.3,299.1 124,300.6 139.8,302.2 149.2,302.2"/><polyline points="92.5,324.3 108.3,327.4 124,325.9 135.1,321.1"/><polyline points="108.3,340.1 113,352.7 117.7,365.3"/><polyline points="149.2,302.2 160.3,306.9 166.6,311.7"/><polyline points="158.7,336.9 152.4,347.9 144.5,357.4 138.2,365.3"/><polyline points="124,351.1 131.9,343.2 136.6,336.9"/><polyline points="165,313.3 161.9,324.3 158.7,336.9 155.6,351.1"/><polyline points="125.6,284.9 127.2,292.8 124,300.6"/><polyline points="185.5,336.9 201.3,337.7 217,336.9 229.6,335.3"/><polyline points="185.5,352.7 201.3,351.1 217,349.5 232.8,346.4 248.6,343.2 264.3,336.9 278.5,333.7"/><polyline points="226.5,370 229.6,360.5 232.8,352.7"/><polyline points="247,352.7 251.7,360.5 254.9,370"/><polyline points="220.2,324.3 229.6,324.3 240.7,324.3"/><polyline points="298,289.6 302.7,303.8 310.6,311.7 316.9,319.6 320.1,332.2 320.1,347.9 321.6,370"/><polyline points="277.5,308.5 283.8,321.1 291.7,329 298,336.9 299.6,347.9 296.4,360.5 293.3,370"/><polyline points="342.1,329 348.4,336.9 353.2,344.8 356.3,352.7 357.9,363.7"/><polyline points="337.4,347.9 334.2,355.8 331.1,370"/><polyline points="287,332.2 290.1,343.2 291.7,355.8"/><polyline points="280.7,300.6 293.3,297.5 309,295.9"/><polyline points="211.8,123.3 215,115.3 217.4,107.3 219,101"/><polyline points="231.5,113.7 235.5,119.3 239.5,124.9 241.1,128.8"/><polyline points="237.9,166.1 241.1,170.9 244.2,174.8"/><polyline points="95.7,189.8 100.5,193.8 105.2,198.5 109.2,203.3 113.2,208.1 117.2,212.1 121.2,215.3 124.4,216.9"/><polyline points="127.6,199.3 126.8,205.7 126.8,212.1 125.2,216.9"/><polyline points="156.8,213.7 160.8,220.1 164,226.4 165.6,232"/><polyline points="114.8,258.1 119.6,259.7 126,261.3 132.3,263.7 139.5,266.1"/><polyline points="92.5,253.3 100.5,254.9 108.4,257.3"/><polyline points="104.4,242.2 107.6,250.9 110,257.3"/><polyline points="111.6,264.5 112.4,270.8 113.2,278"/><polyline points="138.5,252.5 144.9,254.9 149.7,257.3"/><polyline points="138.5,266.1 144.1,262.9 148.9,259.7"/><polyline points="159.2,246.9 161.6,254.9 164.8,262.9"/><polyline points="172,264.5 174.3,270.8 176.7,278"/><polyline points="195.1,226.4 201.4,223.2 206.2,221.6"/><polyline points="198.2,185 205.4,188.2 211.8,191.4"/><polyline points="231.5,205.7 234.7,211.3 237.9,216.9 242.7,223.2 246.6,229.6 247.4,232"/><polyline points="243.4,194.6 247.4,200.9 252.2,205.7 255.4,207.3"/><polyline points="263.4,211.3 265,218.5 265,224.8 264.2,232"/><polyline points="185.5,274 191.9,275.6 197.4,278"/><polyline points="253,238.2 257,246.9 260.2,254.9"/><polyline points="265.8,254.9 269.7,261.3 272.9,266.8 276.1,272.4"/><polyline points="247.4,262.9 251.4,269.2 253.8,274.8 254.6,278"/><polyline points="122.8,83.4 127.6,79.5 132.3,77.9 139.5,77.9"/><polyline points="138.5,77.9 146.5,72.3 154.4,65.9 159.2,61.9"/><polyline points="158.4,53.2 164,58.7 170.4,65.9 174.3,72.3"/></g><g id="nK"><polyline points="187,85 247,86 255,92 259.6,111 269,130 280,142.6 285,152 286.5,168 286.5,187 288,209 285,231.5 277,246 267.5,252 250,260 231,269.6 212,279 196,285.4 187,285.4 164.8,283.8 139.5,276 120.4,268 101.4,261.7 92.5,256.4 80.6,249.2 66.4,243.3 52.2,241 42.7,238.6 38,231.5 36.8,222 35.6,212.5 34.4,203 38,195.9 48.6,186.4 53.4,179.3 60.5,167.4 68.8,153.2 78.3,139 87.8,120 95,116 109,108 127,93.5 149,87 187,85"/></g></defs></svg><svg class="panel" style="left:21.5px" viewBox="0 0 370.5 370" preserveAspectRatio="none"><rect width="370.5" height="370" fill="#ffa900"/><polygon points="0,0 300,0 305,10 309,25 320,35 335,50 345,70 350,93 345,102 337,109 334,121 328,124.5 325,137 320,147 315,159 312,170 318,190 315,206 300,209 284,210 284,235 282,260 278.5,286.5 264.3,289.6 261.2,300.6 256.4,314.8 248.6,319.6 239,329 232,340 228,370 201,370 201,337 185,335 166,324 150,330 132,324 130,282 111,281.5 93,278 74,272 55,268.5 37,263 18,259 0,254 0,232 13,229 20,219 30,212 33,198 27,185 13,178 0,180" fill="#fb9500"/><g fill="none" stroke-linejoin="round" stroke-linecap="round"><g stroke="#f37400" stroke-width="2.0"><use href="#nO"/></g><g stroke="#e20200" stroke-width="2.2"><use href="#nR"/></g><g stroke="#e00000" stroke-width="4.2"><polyline points="142.9,327.4 139.8,340 137.4,352.7 135.1,362.1 133.5,370"/><polyline points="176,324.3 177.6,335.3 179.2,347.9 180.8,359 182.3,370"/><polyline points="334.2,327.4 329.5,340 327.2,351.1 327.2,360.5 327.9,370"/></g><g stroke="#e00000" stroke-width="3.1"><use href="#nM"/></g><g stroke="#e00000" stroke-width="2.6"><use href="#nK"/></g></g><circle cx="103.6" cy="186.7" r="3.7" fill="#fff"/><circle cx="184.5" cy="203.9" r="3.7" fill="#fff"/><line x1="7.2" y1="363.8" x2="75.6" y2="363.8" stroke="#1a1a10" stroke-width="1.9"/></svg><svg class="panel" style="left:417.5px" viewBox="0 0 370.5 370" preserveAspectRatio="none"><defs><clipPath id="cin"><polygon points="187,85 247,86 255,92 259.6,111 269,130 280,142.6 285,152 286.5,168 286.5,187 288,209 285,231.5 277,246 267.5,252 250,260 231,269.6 212,279 196,285.4 187,285.4 164.8,283.8 139.5,276 120.4,268 101.4,261.7 92.5,256.4 80.6,249.2 66.4,243.3 52.2,241 42.7,238.6 38,231.5 36.8,222 35.6,212.5 34.4,203 38,195.9 48.6,186.4 53.4,179.3 60.5,167.4 68.8,153.2 78.3,139 87.8,120 95,116 109,108 127,93.5 149,87 187,85"/></clipPath><clipPath id="cout"><path clip-rule="evenodd" d="M-5,-5H380V380H-5Z M187,85 L247,86 L255,92 L259.6,111 L269,130 L280,142.6 L285,152 L286.5,168 L286.5,187 L288,209 L285,231.5 L277,246 L267.5,252 L250,260 L231,269.6 L212,279 L196,285.4 L187,285.4 L164.8,283.8 L139.5,276 L120.4,268 L101.4,261.7 L92.5,256.4 L80.6,249.2 L66.4,243.3 L52.2,241 L42.7,238.6 L38,231.5 L36.8,222 L35.6,212.5 L34.4,203 L38,195.9 L48.6,186.4 L53.4,179.3 L60.5,167.4 L68.8,153.2 L78.3,139 L87.8,120 L95,116 L109,108 L127,93.5 L149,87 L187,85Z"/></clipPath></defs><rect width="370.5" height="370" fill="#dcf400"/><polygon points="187,85 247,86 255,92 259.6,111 269,130 280,142.6 285,152 286.5,168 286.5,187 288,209 285,231.5 277,246 267.5,252 250,260 231,269.6 212,279 196,285.4 187,285.4 164.8,283.8 139.5,276 120.4,268 101.4,261.7 92.5,256.4 80.6,249.2 66.4,243.3 52.2,241 42.7,238.6 38,231.5 36.8,222 35.6,212.5 34.4,203 38,195.9 48.6,186.4 53.4,179.3 60.5,167.4 68.8,153.2 78.3,139 87.8,120 95,116 109,108 127,93.5 149,87 187,85" fill="#e0f600"/><polygon points="0,283 20,290 37,310 50,322 59,335 71,353 77,370 0,370" fill="#c8ee00"/><polygon points="0,310 15,315 28,335 31,370 0,370" fill="#b6ea00"/><polygon points="194.7,67.2 206,62 218.4,63.8 230.3,67.2 233.7,85.8 226.9,99.4 218.4,116.3 211.7,128.2 204.9,121.4 201.5,107.8 196.4,96 194.7,82.4" fill="#f6fa00"/><g fill="none" stroke-linejoin="round" stroke-linecap="round"><g stroke="#fcf800" stroke-width="2.4"><use href="#nO"/></g><g clip-path="url(#cout)"><g stroke="#fce800" stroke-width="2.8"><use href="#nR"/></g><g stroke="#ffa400" stroke-width="0.8"><use href="#nR"/></g></g><g clip-path="url(#cin)"><g stroke="#f0f800" stroke-width="5"><use href="#nR"/></g><g stroke="#ffd800" stroke-width="3.0"><use href="#nR"/></g><g stroke="#f45c00" stroke-width="0.75"><use href="#nR"/></g></g><g stroke="#ffc400" stroke-width="3.0"><use href="#nM"/><use href="#nK"/></g><g stroke="#f46400" stroke-width="1.5"><use href="#nM"/><use href="#nK"/></g></g></svg><svg class="panel" style="left:813.5px" viewBox="0 0 370.5 370" preserveAspectRatio="none"><rect width="370.5" height="370" fill="#99e600"/><polygon points="150,85.5 168,82 175,70 178,55 176,40 180,31 190.7,25.4 192.4,18.6 197.5,15.3 203.4,17 204.3,25.4 207.7,37.3 205.1,49.2 207.7,64.4 216.2,74.6 231.4,81.4 238.2,83 251.9,86 261.6,97.3 271.3,116.7 276.2,136.2 281,155.6 285.9,194.6 285.9,228.6 276.2,248 256.7,262.6 247,252.9 232.4,233.5 217.8,209.1 208.1,184.8 198.4,155.6 193.5,136.2 183.8,111.9 159.5,97.3" fill="#b2ee00"/><ellipse cx="185" cy="46" rx="4.4" ry="6.3" fill="#9ae600"/><ellipse cx="185" cy="62" rx="3.4" ry="5.4" fill="#9ae600"/><ellipse cx="229.2" cy="147.8" rx="5.1" ry="2.7" fill="#9ae600"/><ellipse cx="236.3" cy="156.1" rx="5.1" ry="2.7" fill="#9ae600"/><ellipse cx="228" cy="160.9" rx="4.2" ry="2.4" fill="#9ae600"/><ellipse cx="238.7" cy="173.9" rx="5.1" ry="2.7" fill="#9ae600"/><ellipse cx="224.4" cy="173.9" rx="4.2" ry="2.4" fill="#9ae600"/><ellipse cx="241" cy="188.1" rx="5.1" ry="2.7" fill="#9ae600"/><ellipse cx="233.9" cy="195.2" rx="4.4" ry="2.7" fill="#9ae600"/><ellipse cx="241" cy="202.3" rx="5.1" ry="2.7" fill="#9ae600"/><ellipse cx="233.9" cy="211.8" rx="4.4" ry="2.7" fill="#9ae600"/><ellipse cx="241" cy="216.6" rx="5.1" ry="2.7" fill="#9ae600"/><ellipse cx="237.5" cy="226" rx="4.4" ry="2.7" fill="#9ae600"/><ellipse cx="241" cy="233.2" rx="4.4" ry="2.4" fill="#9ae600"/><ellipse cx="219.7" cy="164.4" rx="4.1" ry="2.4" fill="#9ae600"/><ellipse cx="274.2" cy="159.7" rx="3.6" ry="7.1" fill="#9ae600"/><ellipse cx="275.4" cy="185.8" rx="3.1" ry="7.1" fill="#9ae600"/><ellipse cx="277.8" cy="204.7" rx="2.5" ry="4.5" fill="#9ae600"/><ellipse cx="276.6" cy="226" rx="3.1" ry="6.3" fill="#9ae600"/><ellipse cx="212" cy="150" rx="4.1" ry="2.4" fill="#9ae600"/><ellipse cx="205" cy="143" rx="3.4" ry="2.1" fill="#9ae600"/><polygon points="0,0 40,0 55,5 68,12 78,25 86,35 87,45 80,52 76,60 67,70 55,72 42,73 30,74 20,76 20,95 18,112 28,118 40,124 50,134 53,144 56,153 55,167 51,177 47,186 55,189 62,194 64,201 59,210 50,215 45,222 39,238 65,243 91,256 117,269 144,277 167,285 170,295 175,321 180,347 183,370.5 0,370.5" fill="#74e02a"/><polygon points="0,279.7 10.4,281 26.1,284.9 41.8,287.5 60,295.3 73.1,300.6 78.3,311 75.7,326.7 73.1,339.7 78.3,347.5 88.8,355.4 99.2,363.2 104.4,371 0,371" fill="#60dc42"/><polygon points="370.5,295 360,297 355,305 355,320 349,333 352,340 345,352 342,371 370.5,371" fill="#68dc3c"/><polygon points="224.7,371 234,362 247,355.5 259.6,349 269,352 278.6,361.5 285,371" fill="#68dc3c"/><g fill="none" stroke-linejoin="round" stroke-linecap="round"><g stroke="#b0ea10" stroke-width="1.4" opacity="0.7"><use href="#nR"/></g><g stroke="#c0ee00" stroke-width="2"><use href="#nM"/></g><g stroke="#d4f000" stroke-width="2.2"><use href="#nK"/></g></g></svg>
</body></html>
